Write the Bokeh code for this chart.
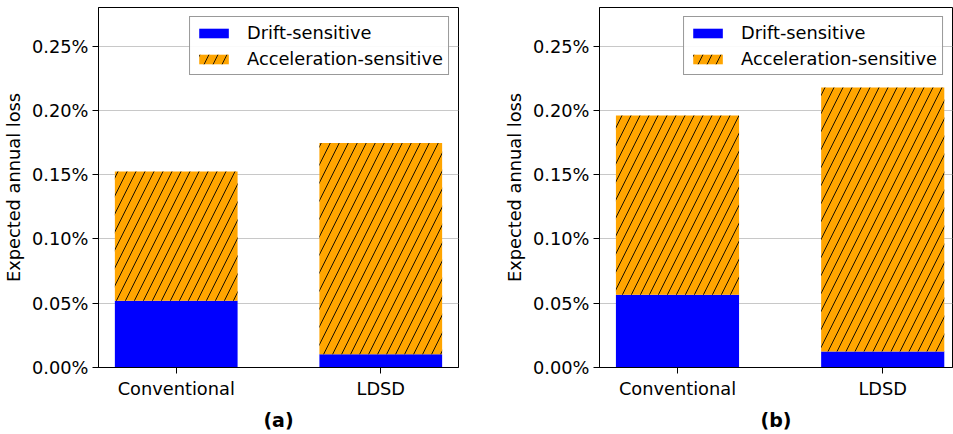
from bokeh.plotting import figure
from bokeh.layouts import row
from bokeh.models import Range1d, FixedTicker, PrintfTickFormatter, Legend, LegendItem, ColumnDataSource
from bokeh.embed import file_html
from bokeh.resources import INLINE

# ---- data (expected annual loss, in %) ----
categories = ["Conventional", "LDSD"]
drift_a = [0.0519, 0.0103]
accel_a = [0.1005, 0.1644]
drift_b = [0.0565, 0.0124]
accel_b = [0.1395, 0.2053]
y_ticks = [0.0, 0.05, 0.10, 0.15, 0.20, 0.25]
panel_labels = ["(a)", "(b)"]
series_names = ["Drift-sensitive", "Acceleration-sensitive"]

FONT = "DejaVu Sans"
FS = "17.8px"


def make_panel(drift, accel, label, width, border_left, border_right, x_end):
    xs = list(range(len(categories)))
    src = ColumnDataSource(dict(
        x=xs,
        drift=drift,
        total=[d + a for d, a in zip(drift, accel)],
    ))
    p = figure(width=width, height=434, output_backend="svg", toolbar_location=None,
               x_range=Range1d(-0.38, x_end), y_range=Range1d(0, 0.28),
               min_border_left=border_left, min_border_right=border_right,
               min_border_top=7, min_border_bottom=67)
    p.background_fill_color = "white"
    p.border_fill_color = "white"
    p.outline_line_color = "black"
    p.outline_line_width = 1

    r1 = p.vbar(x="x", width=0.6, bottom=0, top="drift", source=src,
                fill_color="#0000ff", line_color=None)
    r2 = p.vbar(x="x", width=0.6, bottom="drift", top="total", source=src,
                fill_color="#ffa500", line_color=None,
                hatch_pattern="/", hatch_color="black", hatch_alpha=0.9,
                hatch_scale=18, hatch_weight=1)

    # axes
    p.xaxis.ticker = FixedTicker(ticks=xs)
    p.xaxis.major_label_overrides = {i: c for i, c in enumerate(categories)}
    p.yaxis.ticker = FixedTicker(ticks=y_ticks)
    p.yaxis.formatter = PrintfTickFormatter(format="%.2f%%")
    p.yaxis.axis_label = "Expected annual loss"
    p.xaxis.axis_label = label
    for ax in (p.xaxis[0], p.yaxis[0]):
        ax.axis_line_color = "black"
        ax.major_tick_line_color = "black"
        ax.major_tick_out = 6
        ax.major_tick_in = 0
        ax.minor_tick_line_color = None
        ax.major_label_text_font = FONT
        ax.major_label_text_font_size = FS
        ax.major_label_text_color = "black"
        ax.axis_label_text_font = FONT
        ax.axis_label_text_color = "black"
        ax.major_label_standoff = 4
    p.yaxis.axis_label_text_font_size = FS
    p.yaxis.axis_label_text_font_style = "normal"
    p.yaxis.axis_label_standoff = 5
    p.xaxis.axis_label_text_font_size = "19px"
    p.xaxis.axis_label_text_font_style = "bold"
    p.xaxis.axis_label_standoff = 7

    p.xgrid.visible = False
    p.ygrid.grid_line_color = "#c8c8c8"
    p.ygrid.grid_line_width = 1

    legend = Legend(items=[LegendItem(label=series_names[0], renderers=[r1]),
                           LegendItem(label=series_names[1], renderers=[r2])],
                    location="top_right")
    legend.margin = 9
    legend.padding = 5
    legend.spacing = 5
    legend.glyph_width = 37
    legend.glyph_height = 12
    legend.label_height = 21
    legend.label_standoff = 15
    legend.label_text_font = FONT
    legend.label_text_font_size = FS
    legend.label_text_color = "black"
    legend.border_line_color = "#333333"
    legend.border_line_width = 1
    legend.background_fill_color = "white"
    legend.background_fill_alpha = 0.9
    p.add_layout(legend)
    return p


pa = make_panel(drift_a, accel_a, panel_labels[0], 476, 98, 18, 1.38)
pb = make_panel(drift_b, accel_b, panel_labels[1], 477, 123, 1, 1.34)

layout = row(pa, pb)
open("out.html", "w").write(file_html(layout, INLINE))
